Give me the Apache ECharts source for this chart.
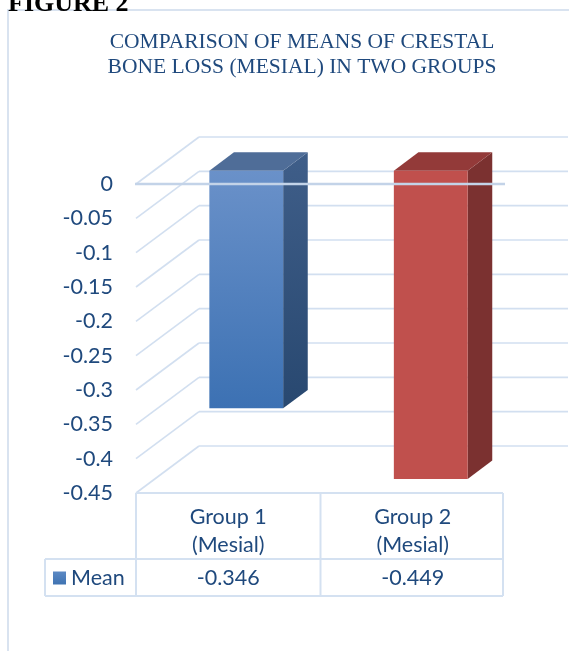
<!DOCTYPE html>
<html><head><meta charset="utf-8">
<script src="https://cdn.jsdelivr.net/npm/echarts@6/dist/echarts.min.js"></script>
<style>html,body{margin:0;padding:0;background:#fff}#c{width:569px;height:651px}</style>
</head><body><div id="c"></div>
<script>
// ---- data ----
var categories = ['Group 1 (Mesial)', 'Group 2 (Mesial)'];
var meanValues = [-0.346, -0.449];
var yTicks = [0, -0.05, -0.1, -0.15, -0.2, -0.25, -0.3, -0.35, -0.4, -0.45];
var seriesName = 'Mean';
var titleLines = ['COMPARISON OF MEANS OF CRESTAL', 'BONE LOSS (MESIAL) IN TWO GROUPS'];
var figureLabel = 'FIGURE 2';

// ---- style ----
var TXT = '#1F497D';
var FS = 21.5;
var GRIDC = '#D2DFF0';
var TABLEC = '#D4E1F1';
var DEPTH = [63, -47];
var BAR_FRONT = [18, -13.3];
var BAR_BACK = [42.6, -31.7];
var LG = echarts.graphic.LinearGradient;
var palettes = [
  { front: new LG(0, 0, 0, 1, [{offset: 0, color: '#6A91C9'}, {offset: 1, color: '#3C71B3'}]),
    top: '#4F6D98',
    side: new LG(0, 0, 0, 1, [{offset: 0, color: '#3F5E89'}, {offset: 1, color: '#284870'}]) },
  { front: '#C0504D', top: '#933A39', side: '#7B3130' }
];

function renderWall(params, api) {
  var v = api.value(1);
  var cs = params.coordSys;
  var y = api.coord([0, v])[1];
  var x0 = cs.x, x1 = cs.x + cs.width;
  return {type: 'group', children: [
    {type: 'line', shape: {x1: x0, y1: y, x2: x0 + DEPTH[0], y2: y + DEPTH[1]}, style: {stroke: GRIDC, lineWidth: 1.6}},
    {type: 'line', shape: {x1: x0 + DEPTH[0], y1: y + DEPTH[1], x2: x1 + DEPTH[0], y2: y + DEPTH[1]}, style: {stroke: GRIDC, lineWidth: 1.6}}
  ]};
}

function renderBar(params, api) {
  var i = api.value(0), v = api.value(1);
  var p0 = api.coord([i, 0]);
  var p1 = api.coord([i, v]);
  var w = api.size([1, 0])[0] * 0.4;
  var xl = p0[0] - w / 2, xr = p0[0] + w / 2;
  var y0 = p0[1], y1 = p1[1];
  var f = BAR_FRONT, b = BAR_BACK;
  var c = palettes[params.dataIndex % palettes.length];
  return {type: 'group', children: [
    {type: 'polygon', shape: {points: [[xr + f[0], y0 + f[1]], [xr + b[0], y0 + b[1]], [xr + b[0], y1 + b[1]], [xr + f[0], y1 + f[1]]]}, style: {fill: c.side}},
    {type: 'polygon', shape: {points: [[xl + f[0], y0 + f[1]], [xr + f[0], y0 + f[1]], [xr + b[0], y0 + b[1]], [xl + b[0], y0 + b[1]]]}, style: {fill: c.top}},
    {type: 'rect', shape: {x: xl + f[0], y: y0 + f[1], width: w, height: y1 - y0}, style: {fill: c.front}}
  ]};
}

function renderZeroLine(params, api) {
  var cs = params.coordSys;
  var y = api.coord([0, api.value(1)])[1];
  return {type: 'line', shape: {x1: cs.x - 1, y1: y, x2: cs.x + cs.width, y2: y}, style: {stroke: '#C3D3E8', lineWidth: 2.5}};
}

function renderTable(params, api) {
  var cs = params.coordSys;
  var i = api.value(0), v = api.value(1);
  var cx = api.coord([i, 0])[0];
  var yTop = cs.y + cs.height;
  var yMid = yTop + 66, yBot = yTop + 103;
  var children = [
    {type: 'text', style: {text: String(v), x: cx, y: (yMid + yBot) / 2 + 1, textAlign: 'center', textVerticalAlign: 'middle', fontSize: FS, fontFamily: 'Lato', fill: TXT}}
  ];
  if (params.dataIndex === 0) {
    var xs = [cs.x, cs.x + cs.width / 2, cs.x + cs.width - 2];
    var ls = {stroke: TABLEC, lineWidth: 2};
    children.push({type: 'line', shape: {x1: cs.x, y1: yTop, x2: xs[2], y2: yTop}, style: ls});
    xs.forEach(function (x) {
      children.push({type: 'line', shape: {x1: x, y1: yTop, x2: x, y2: yBot}, style: ls});
    });
    children.push({type: 'line', shape: {x1: 45, y1: yMid, x2: xs[2], y2: yMid}, style: ls});
    children.push({type: 'line', shape: {x1: 45, y1: yBot, x2: xs[2], y2: yBot}, style: ls});
    children.push({type: 'line', shape: {x1: 45, y1: yMid, x2: 45, y2: yBot}, style: ls});
  }
  return {type: 'group', children: children};
}

var chart = echarts.init(document.getElementById('c'), null, {renderer: 'canvas'});
chart.setOption({
  animation: false,
  backgroundColor: '#fff',
  graphic: [{type: 'rect', silent: true, z: -10, shape: {x: 8, y: 10, width: 640, height: 700}, style: {fill: 'none', stroke: '#D9E3F0', lineWidth: 2}}],
  title: [
    {text: titleLines.join('\n'), left: 302, top: 30, textAlign: 'center', padding: 0,
     textStyle: {fontFamily: 'Liberation Serif', fontSize: 21.5, fontWeight: 'normal', color: TXT, lineHeight: 25}},
    {text: figureLabel, left: 8, top: -9, padding: 0,
     textStyle: {fontFamily: 'Liberation Serif', fontSize: 26, fontWeight: 'bold', color: '#000', lineHeight: 26}}
  ],
  legend: {data: [seriesName], left: 53, top: 567, padding: 0, itemWidth: 13, itemHeight: 13, icon: 'rect',
           textStyle: {fontFamily: 'Lato', fontSize: FS, color: TXT}},
  grid: {left: 136, top: 184, width: 369, height: 309},
  xAxis: {type: 'category', data: categories,
          axisLine: {show: false}, axisTick: {show: false}, splitLine: {show: false},
          axisLabel: {margin: 10, lineHeight: 28, fontSize: FS, fontFamily: 'Lato', color: TXT,
                      formatter: function (s) { return s.replace(' (', '\n('); }}},
  yAxis: {type: 'value', min: -0.45, max: 0, interval: 0.05,
          axisLine: {show: false}, axisTick: {show: false}, splitLine: {show: false},
          axisLabel: {margin: 23, fontSize: FS, fontFamily: 'Lato', color: TXT}},
  series: [
    {type: 'custom', name: 'wall', silent: true, z: 1, renderItem: renderWall,
     data: yTicks.map(function (v) { return [0, v]; })},
    {type: 'custom', name: seriesName, z: 2, renderItem: renderBar,
     itemStyle: {color: new LG(0, 0, 0, 1, [{offset: 0, color: '#5C89C4'}, {offset: 1, color: '#3F73B2'}])},
     data: meanValues.map(function (v, i) { return [i, v]; })},
    {type: 'custom', name: 'zero', silent: true, z: 3, renderItem: renderZeroLine, data: [[0, 0]]},
    {type: 'custom', name: 'table', silent: true, z: 3, renderItem: renderTable,
     data: meanValues.map(function (v, i) { return [i, v]; })}
  ]
});
</script>
</body></html>
